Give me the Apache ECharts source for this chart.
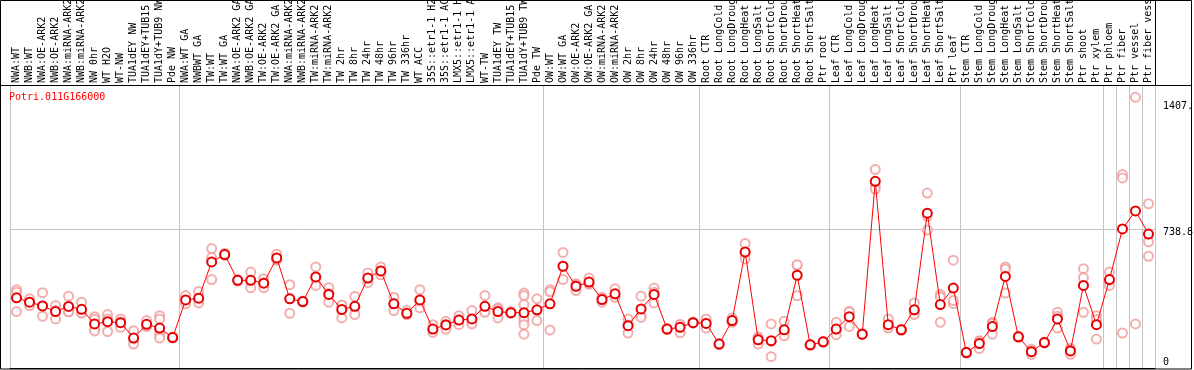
<!DOCTYPE html>
<html>
<head>
<meta charset="utf-8">
<title>Potri.011G166000</title>
<script src="https://cdn.jsdelivr.net/npm/echarts@6/dist/echarts.min.js"></script>
<style>
  html, body { margin: 0; padding: 0; background: #fff; }
  #chart { width: 1194px; height: 370px; }
</style>
</head>
<body>
<div id="chart"></div>
<script>
// sample names, left to right
const categories = [
  'NWA:WT', 'NWB:WT', 'NWA:OE-ARK2', 'NWB:OE-ARK2', 'NWA:miRNA-ARK2', 'NWB:miRNA-ARK2',
  'NW 0hr', 'WT H2O', 'WT-NW', 'TUA1dEY NW', 'TUA1dEY+TUB15', 'TUA1dY+TUB9 NW', 'Pde NW',
  'NWA:WT GA', 'NWBWT GA', 'TW:WT', 'TW:WT GA', 'NWA:OE-ARK2 GA', 'NWB:OE-ARK2 GA',
  'TW:OE-ARK2', 'TW:OE-ARK2 GA', 'NWA:miRNA-ARK2', 'NWB:miRNA-ARK2', 'TW:miRNA-ARK2',
  'TW:miRNA-ARK2', 'TW 2hr', 'TW 8hr', 'TW 24hr', 'TW 48hr', 'TW 96hr', 'TW 336hr',
  'WT ACC', '35S::etr1-1 H2O', '35S::etr1-1 ACC', 'LMX5::etr1-1 H2O', 'LMX5::etr1-1 ACC',
  'WT-TW', 'TUA1dEY TW', 'TUA1dEY+TUB15', 'TUA1dY+TUB9 TW', 'Pde TW',
  'OW:WT', 'OW:WT GA', 'OW:OE-ARK2', 'OW:OE-ARK2 GA', 'OW:miRNA-ARK2', 'OW:miRNA-ARK2',
  'OW 2hr', 'OW 8hr', 'OW 24hr', 'OW 48hr', 'OW 96hr', 'OW 336hr',
  'Root CTR', 'Root LongCold', 'Root LongDrought', 'Root LongHeat', 'Root LongSalt',
  'Root ShortCold', 'Root ShortDrought', 'Root ShortHeat', 'Root ShortSalt', 'Ptr root',
  'Leaf CTR', 'Leaf LongCold', 'Leaf LongDrought', 'Leaf LongHeat', 'Leaf LongSalt',
  'Leaf ShortCold', 'Leaf ShortDrought', 'Leaf ShortHeat', 'Leaf ShortSalt', 'Ptr leaf',
  'Stem CTR', 'Stem LongCold', 'Stem LongDrought', 'Stem LongHeat', 'Stem LongSalt',
  'Stem ShortCold', 'Stem ShortDrought', 'Stem ShortHeat', 'Stem ShortSalt', 'Ptr shoot',
  'Ptr xylem', 'Ptr phloem', 'Ptr fiber', 'Ptr vessel', 'Ptr fiber vessel'
];

// index of the first sample of each block (grey separators)
const groupStarts = [0, 13, 41, 53, 63, 73, 84, 85, 86, 87];

// mean expression per sample
const means = [
  373, 350, 330, 300, 327, 312, 234, 246, 241, 159, 232, 212, 162,
  362, 371, 564, 603, 466, 466, 451, 585, 368, 353, 484, 391, 311, 328, 478, 516, 341, 291,
  362, 207, 229, 255, 261, 328, 300, 294, 294, 309,
  341, 541, 434, 457, 364, 394, 225, 314, 391, 207, 216, 241,
  237, 127, 252, 617, 150, 145, 203, 493, 123, 139,
  207, 273, 180, 992, 230, 203, 309, 823, 337, 425,
  82, 130, 220, 487, 166, 87, 135, 261, 91, 439,
  230, 470, 739, 835, 712
];

// individual replicates per sample
const replicates = [
  [416, 403, 300], [368, 350, 332], [400, 330, 275], [332, 305, 261], [382, 300, 299],
  [350, 294, 292], [273, 259, 207, 197], [284, 260, 194], [261, 245, 216], [198, 152, 127],
  [252, 224, 220], [278, 261, 198, 177, 159], [165, 160, 161],
  [385, 360, 341], [407, 360, 346], [635, 587, 470], [610, 600, 599], [470, 466, 462],
  [510, 461, 427], [475, 451, 427], [605, 578, 573], [443, 370, 291], [356, 353, 350],
  [537, 476, 439], [427, 396, 350], [332, 335, 266], [380, 320, 284], [505, 475, 454],
  [537, 516, 495], [376, 342, 305], [305, 284, 284], [416, 350, 320], [230, 202, 189],
  [248, 232, 207], [278, 257, 230], [305, 244, 234], [385, 303, 296], [320, 314, 266],
  [300, 292, 290], [398, 385, 337, 269, 252, 230, 180], [368, 307, 252],
  [416, 405, 202], [614, 539, 470], [448, 442, 412], [478, 448, 445], [376, 366, 350],
  [421, 385, 376], [261, 228, 186], [382, 278, 269], [425, 402, 346], [210, 207, 204],
  [230, 231, 187], [244, 241, 238],
  [261, 238, 212], [130, 127, 124], [266, 247, 243], [662, 609, 580], [166, 157, 127],
  [234, 141, 60], [248, 190, 171], [546, 549, 384], [126, 123, 120], [142, 139, 136],
  [243, 201, 177], [301, 297, 221], [183, 180, 177], [1055, 970, 951], [261, 217, 212],
  [206, 203, 200], [346, 297, 284], [930, 806, 733], [391, 377, 243], [573, 343, 359],
  [85, 82, 79], [145, 142, 103], [243, 237, 180], [537, 526, 398], [169, 166, 163],
  [100, 88, 73], [138, 135, 132], [296, 275, 212], [105, 95, 73], [528, 480, 296],
  [278, 258, 154], [510, 461, 439], [1028, 1010, 186], [1439, 234], [873, 671, 594]
];

// right-hand axis labels
const yTickValues = [0, 738.8, 1407.6];
const yTickLabels = ['0', '738.8', '1407.'];

const mono = 'DejaVu Sans Mono';
const grey = '#c4c4c4';

const repPoints = [];
replicates.forEach((list, i) => {
  list.forEach(v => repPoints.push([i, v]));
});

const isGroupStart = (index) => groupStarts.indexOf(index) >= 0;

const chart = echarts.init(document.getElementById('chart'), null, { renderer: 'canvas' });

chart.setOption({
  animation: false,
  backgroundColor: '#fff',
  title: {
    text: 'Potri.011G166000',
    left: 9,
    top: 92,
    padding: 0,
    textStyle: { color: '#ff0000', fontSize: 10, fontFamily: mono, fontWeight: 'normal' }
  },
  grid: { left: 10, right: 39, top: 85, bottom: 2, outerBoundsMode: 'none', containLabel: false },
  xAxis: {
    type: 'category',
    position: 'top',
    data: categories,
    boundaryGap: true,
    axisLine: { show: true, lineStyle: { color: '#000', width: 1 } },
    axisTick: { show: true, interval: isGroupStart, length: 85, lineStyle: { color: grey } },
    splitLine: { show: true, interval: isGroupStart, lineStyle: { color: grey } },
    axisLabel: {
      interval: 0, rotate: 90, margin: 2,
      fontSize: 10, fontFamily: mono, color: '#000'
    }
  },
  yAxis: {
    type: 'value',
    position: 'right',
    min: 0,
    max: 1504.2,
    axisLine: { show: true, lineStyle: { color: grey } },
    axisTick: { show: false, customValues: [738.8] },
    splitLine: { show: true, lineStyle: { color: grey } },
    axisLabel: {
      customValues: yTickValues,
      margin: 8,
      fontSize: 10, fontFamily: mono, color: '#000',
      formatter: (v) => {
        const i = yTickValues.indexOf(v);
        const txt = i >= 0 ? yTickLabels[i] : String(v);
        return v === 0 ? '{z|' + txt + '}' : '{t|' + txt + '}';
      },
      rich: {
        z: { fontSize: 10, fontFamily: mono, color: '#000', padding: [0, 0, 12, 0] },
        t: { fontSize: 10, fontFamily: mono, color: '#000', padding: [6, 0, 0, 0] }
      }
    }
  },
  series: [
    {
      name: 'replicates',
      type: 'scatter',
      data: repPoints,
      symbol: 'emptyCircle',
      symbolSize: 9,
      itemStyle: { color: '#f09a9a', borderColor: '#f09a9a', borderWidth: 1 },
      z: 2
    },
    {
      name: 'mean',
      type: 'line',
      data: means,
      symbol: 'emptyCircle',
      symbolSize: 9,
      showAllSymbol: true,
      lineStyle: { color: '#ff0000', width: 1 },
      itemStyle: { color: '#e80000', borderColor: '#e80000', borderWidth: 1.6 },
      z: 3
    }
  ],
  graphic: [
    {
      type: 'rect', silent: true, z: 100,
      shape: { x: 0.5, y: 0.5, width: 1191, height: 368.5 },
      style: { fill: null, stroke: '#000', lineWidth: 1 }
    },
    {
      type: 'line', silent: true, z: 100,
      shape: { x1: 0, y1: 85.5, x2: 1192, y2: 85.5 },
      style: { stroke: '#000', lineWidth: 1 }
    },
    {
      type: 'line', silent: true, z: 100,
      shape: { x1: 1155.5, y1: 0, x2: 1155.5, y2: 85 },
      style: { stroke: '#000', lineWidth: 1 }
    }
  ]
});
</script>
</body>
</html>
